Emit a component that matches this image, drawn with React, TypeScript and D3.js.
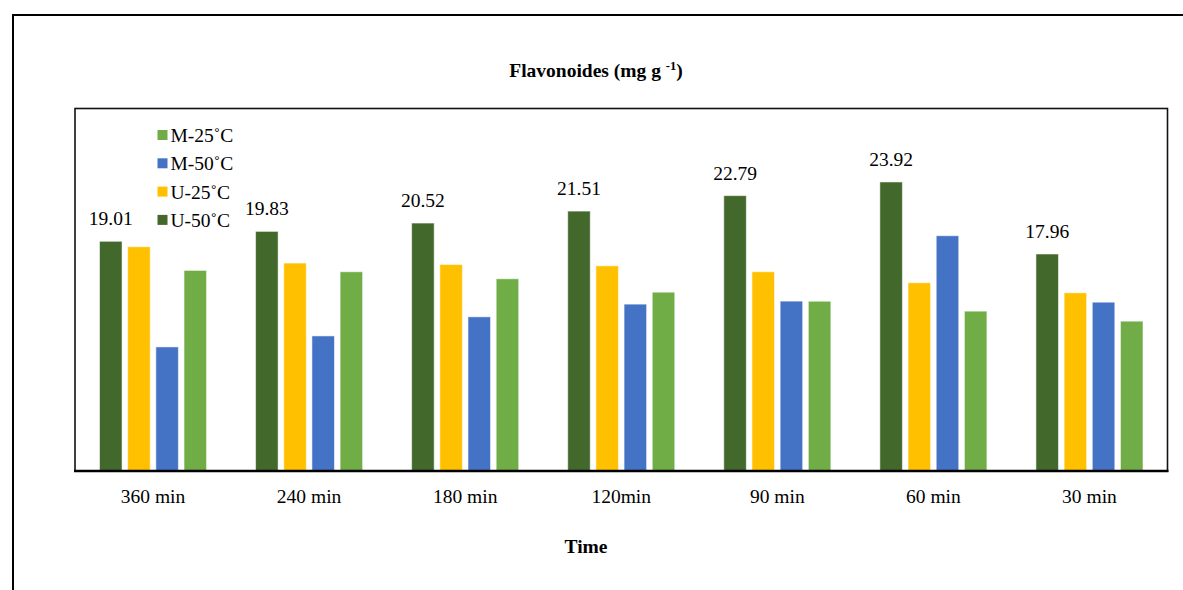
import React from "react";
import * as d3 from "d3";

const categories = ["360 min", "240 min", "180 min", "120min", "90 min", "60 min", "30 min"];
const seriesNames = ["U-50˚C", "U-25˚C", "M-50˚C", "M-25˚C"];
const u50 = [19.01, 19.83, 20.52, 21.51, 22.79, 23.92, 17.96];
const u25 = [18.56, 17.21, 17.09, 16.98, 16.49, 15.58, 14.75];
const m50 = [10.27, 11.18, 12.76, 13.81, 14.06, 19.47, 13.97];
const m25 = [16.6, 16.49, 15.91, 14.8, 14.05, 13.23, 12.4];
const colors = ["#43682B", "#FFC000", "#4472C4", "#70AD47"];
const yDomain = [0, 30];

const W = 1183;
const H = 590;
const plot = { left: 75, top: 108.5, right: 1167.5, bottom: 471 };
const FONT = "'Liberation Serif', 'Times New Roman', serif";

export default function App() {
  const seriesValues = [u50, u25, m50, m25];
  const x0 = d3
    .scaleBand<string>()
    .domain(categories)
    .range([plot.left, plot.right])
    .paddingInner(0.314)
    .paddingOuter(0.157);
  const x1 = d3
    .scaleBand<string>()
    .domain(seriesNames)
    .range([0, x0.bandwidth()])
    .paddingInner(0.2)
    .paddingOuter(0);
  const y = d3.scaleLinear().domain(yDomain).range([plot.bottom, plot.top]);

  const legendOrder = [3, 2, 1, 0];

  return (
    <svg
      width={W}
      height={H}
      style={{ position: "absolute", left: 0, top: 0, background: "#fff" }}
      fontFamily={FONT}
    >
      <rect x={0} y={0} width={W} height={H} fill="#fff" />
      <rect x={13} y={15} width={W + 10} height={H + 10} fill="none" stroke="#000" strokeWidth={2} />

      <text x={596} y={76.5} textAnchor="middle" fontSize={19.5} fontWeight="bold" fill="#000">
        Flavonoides (mg g{" "}
        <tspan fontSize={12.5} dy={-7}>-1</tspan>
        <tspan dy={7}>)</tspan>
      </text>

      <rect
        x={plot.left}
        y={plot.top}
        width={plot.right - plot.left}
        height={plot.bottom - plot.top}
        fill="#fff"
        stroke="#111"
        strokeWidth={1.6}
      />

      {categories.map((c, i) => (
        <g key={c} transform={`translate(${x0(c)},0)`}>
          {seriesNames.map((s, j) => {
            const v = seriesValues[j][i];
            return (
              <rect
                key={s}
                x={x1(s)}
                y={y(v)}
                width={x1.bandwidth()}
                height={y(0) - y(v)}
                fill={colors[j]}
                stroke="rgba(255,255,255,0.55)"
                strokeWidth={1}
              />
            );
          })}
          <text
            x={(x1(seriesNames[0]) as number) + x1.bandwidth() / 2}
            y={y(u50[i]) - 16}
            textAnchor="middle"
            fontSize={19.5}
            fill="#000"
          >
            {u50[i].toFixed(2)}
          </text>
          <text
            x={x0.bandwidth() / 2}
            y={502.5}
            textAnchor="middle"
            fontSize={19.5}
            fill="#000"
          >
            {c}
          </text>
        </g>
      ))}

      <line x1={plot.left - 1} x2={plot.right + 1} y1={plot.bottom} y2={plot.bottom} stroke="#000" strokeWidth={2.5} />

      {legendOrder.map((j, k) => {
        const cy = 135 + k * 28.3;
        return (
          <g key={seriesNames[j]}>
            <rect x={157.5} y={cy - 5} width={10} height={10} fill={colors[j]} />
            <text x={170.5} y={cy + 7} fontSize={19.5} fill="#000">
              {seriesNames[j]}
            </text>
          </g>
        );
      })}

      <text x={586} y={553} textAnchor="middle" fontSize={19.5} fontWeight="bold" fill="#000">
        Time
      </text>
    </svg>
  );
}
